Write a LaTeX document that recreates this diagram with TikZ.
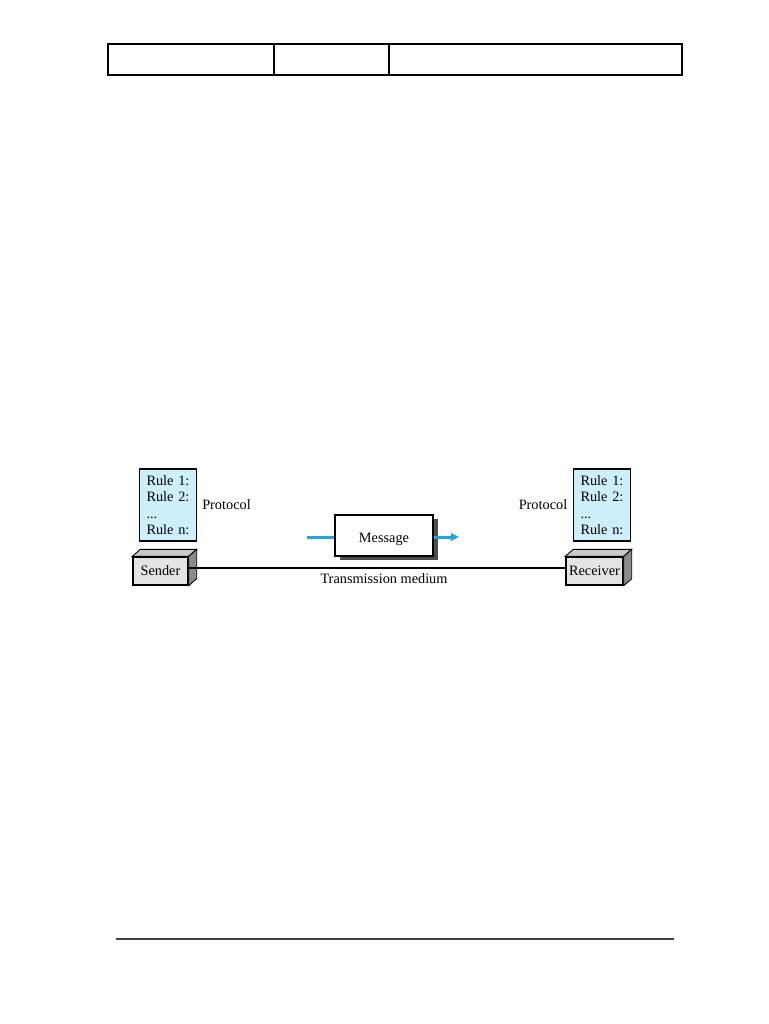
\documentclass[tikz,border=0pt]{standalone}
\usepackage{fontspec}
\setmainfont{Liberation Serif}
\usetikzlibrary{calc,shadows,arrows.meta}
\definecolor{rulefill}{HTML}{CDEEFB}
\definecolor{msgcyan}{HTML}{1AA8EA}
\definecolor{frontgray}{HTML}{E4E4E4}
\definecolor{topgray}{HTML}{C8C8C8}
\definecolor{sidegray}{HTML}{8A8A8A}
\newcommand{\diafont}{\fontsize{14.3}{16.5}\selectfont}
\tikzset{
  txt/.style={font=\diafont, inner sep=0pt},
  rulebox/.style={draw=black, line width=1.4pt, fill=rulefill, minimum width=57pt, minimum height=72pt, inner sep=0pt, align=left, text width=43pt, font=\diafont},
  station/.style={draw=black, line width=1.4pt, fill=frontgray, minimum height=28pt, inner sep=0pt, font=\diafont},
  face/.style={draw=black, line width=0.9pt},
  cell/.style={draw=black, line width=1.2pt, minimum height=31pt, inner sep=0pt},
  msgbox/.style={draw=black, line width=1.4pt, fill=white, minimum width=98pt, minimum height=41pt, inner sep=0pt, font=\diafont, text height=13pt, text depth=0pt,
    drop shadow={shadow xshift=5pt, shadow yshift=-4pt, fill=black!70, opacity=1}},
  cyanline/.style={draw=msgcyan, line width=3pt},
  medium/.style={draw=black, line width=1.3pt}
}
\begin{document}
\begin{tikzpicture}[x=1pt,y=-1pt]
\useasboundingbox (0,0) rectangle (768,1024);
% top table
\node[cell, minimum width=166pt] (c1) at (191,59.5) {};
\node[cell, minimum width=115pt] (c2) at (331.5,59.5) {};
\node[cell, minimum width=293pt] (c3) at (535.5,59.5) {};
% bottom rule
\coordinate (bl) at (116,939);
\coordinate (br) at (674,939);
\draw[draw=black!75, line width=1.6pt] (bl) -- (br);
% rule boxes
\node[rulebox] (rl) at (168,505) {Rule 1:\\Rule 2:\\...\\Rule n:};
\node[rulebox] (rr) at (602,505) {Rule 1:\\Rule 2:\\...\\Rule n:};
\node[txt] (pl) at (226.5,505) {Protocol};
\node[txt] (pr) at (543,505) {Protocol};
% sender
\node[station, minimum width=55pt] (sender) at (160.5,571) {Sender};
\filldraw[face, fill=topgray] (sender.north west) -- ++(8,-7) -- ($(sender.north east)+(8,-7)$) -- (sender.north east) -- cycle;
\filldraw[face, fill=sidegray] (sender.north east) -- ++(8,-7) -- ($(sender.south east)+(8,-7)$) -- (sender.south east) -- cycle;
% receiver
\node[station, minimum width=57pt] (receiver) at (594.5,571) {Receiver};
\filldraw[face, fill=topgray] (receiver.north west) -- ++(8,-7) -- ($(receiver.north east)+(8,-7)$) -- (receiver.north east) -- cycle;
\filldraw[face, fill=sidegray] (receiver.north east) -- ++(8,-7) -- ($(receiver.south east)+(8,-7)$) -- (receiver.south east) -- cycle;
% medium
\draw[medium] ($(sender.east)+(0,-3)$) -- ($(receiver.west)+(0,-3)$);
\node[txt] (tm) at (384,579) {Transmission medium};
% message
\node[msgbox] (msg) at (384,535.5) {Message};
\coordinate (min) at (307,537);
\coordinate (mout) at (459,537);
\draw[cyanline] (min) -- (min -| msg.west);
\draw[cyanline, -{Triangle[length=8pt,width=7.5pt]}] (mout -| msg.east) -- (mout);
\end{tikzpicture}
\end{document}
